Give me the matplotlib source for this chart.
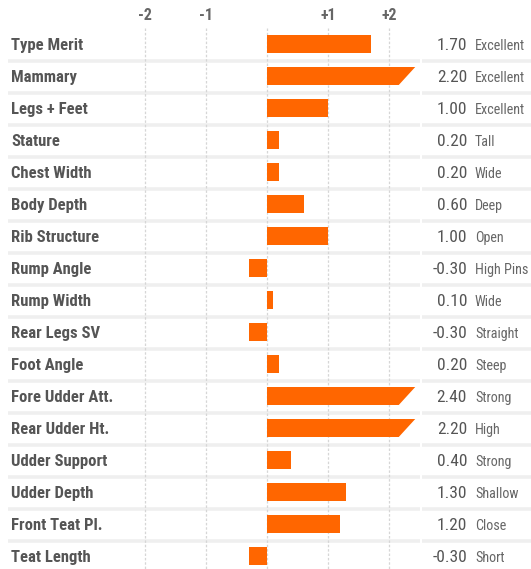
import matplotlib
matplotlib.use("Agg")
import matplotlib.pyplot as plt
from matplotlib.patches import Polygon

traits = ["Type Merit", "Mammary", "Legs + Feet", "Stature", "Chest Width", "Body Depth",
          "Rib Structure", "Rump Angle", "Rump Width", "Rear Legs SV", "Foot Angle",
          "Fore Udder Att.", "Rear Udder Ht.", "Udder Support", "Udder Depth",
          "Front Teat Pl.", "Teat Length"]
values = [1.70, 2.20, 1.00, 0.20, 0.20, 0.60, 1.00, -0.30, 0.10, -0.30, 0.20,
          2.40, 2.20, 0.40, 1.30, 1.20, -0.30]
descriptors = ["Excellent", "Excellent", "Excellent", "Tall", "Wide", "Deep", "Open",
               "High Pins", "Wide", "Straight", "Steep", "Strong", "High", "Strong",
               "Shallow", "Close", "Short"]
tick_vals = [-2, -1, 1, 2]
tick_labels = ["-2", "-1", "+1", "+2"]
grid_vals = [-2, -1, 0, 1, 2]

FONT = ["Liberation Sans Narrow", "Roboto Condensed", "Liberation Sans", "DejaVu Sans"]
plt.rcParams["font.family"] = FONT

BAR = "#FF6600"
TXT = "#555555"
SEP = "#EFEFEF"

W, H = 531, 569
fig = plt.figure(figsize=(W / 100, H / 100), dpi=100)
ax = fig.add_axes([0, 0, 1, 1])
zero_px, unit_px = 267, 61
row0_px, row_px = 44, 32
ax.set_xlim(-zero_px / unit_px, (W - zero_px) / unit_px)
ax.set_ylim((H - row0_px) / row_px, -row0_px / row_px)
ax.axis("off")

n = len(traits)
clip_lo, clip_hi = 2.16, 2.43
bar_h = 18 / row_px

# separators
x_left = (8 - zero_px) / unit_px
x_mid = (420 - zero_px) / unit_px
x_mid2 = (422 - zero_px) / unit_px
x_right = (W - zero_px) / unit_px
for i in range(n - 1):
    y = i + 0.52
    ax.plot([x_left, x_mid], [y, y], color=SEP, lw=2.6, solid_capstyle="butt", zorder=1)
    ax.plot([x_mid2, x_right], [y, y], color=SEP, lw=2.6, solid_capstyle="butt", zorder=1)

# gridlines
for g in grid_vals:
    ax.plot([g, g], [-0.5, n + 1], color="#D6D6D6", lw=0.9, ls=(0, (2, 1.5)), zorder=2)

# bars
for i, v in enumerate(values):
    if v > 2:
        poly = Polygon([(0, i - bar_h / 2), (clip_hi, i - bar_h / 2),
                        (clip_lo, i + bar_h / 2), (0, i + bar_h / 2)],
                       closed=True, facecolor=BAR, edgecolor="none", zorder=3)
        ax.add_patch(poly)
    else:
        ax.barh(i, v, height=bar_h, color=BAR, zorder=3)

# row labels
for i, t in enumerate(traits):
    yy = i + 0.04
    ax.text((11 - zero_px) / unit_px, yy, t, ha="left", va="center",
            fontsize=12, fontweight="bold", color=TXT, zorder=4)
    ax.text((467 - zero_px) / unit_px, yy, f"{values[i]:.2f}", ha="right", va="center",
            fontsize=12.5, color=TXT, zorder=4)
    ax.text((475 - zero_px) / unit_px, yy + 0.03, descriptors[i], ha="left", va="center",
            fontsize=10.2, color="#666666", zorder=4)

# ticks
for tv, tl in zip(tick_vals, tick_labels):
    ax.text(tv, (15 - row0_px) / row_px, tl, ha="center", va="center",
            fontsize=11.5, fontweight="bold", color="#666666")

fig.savefig("out.png", dpi=100)
